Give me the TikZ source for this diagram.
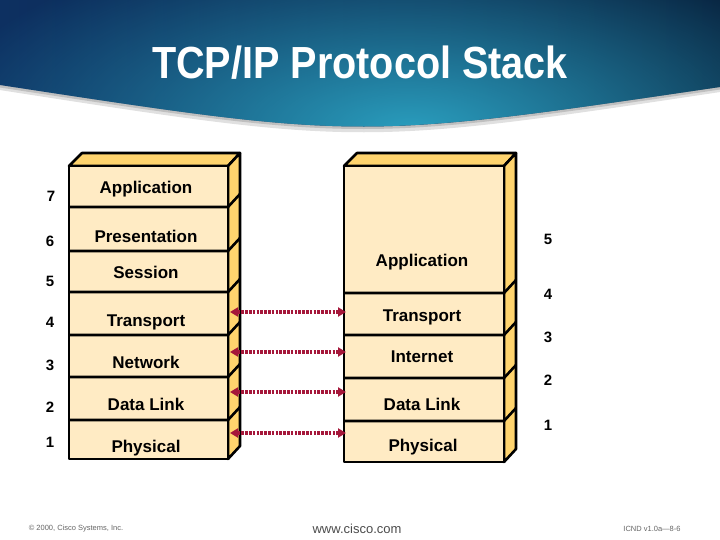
\documentclass[tikz,border=0pt]{standalone}
\usepackage{fontspec}
\setmainfont{Liberation Sans}
\usetikzlibrary{arrows.meta,fadings}
\definecolor{frontc}{HTML}{FFEBC4}
\definecolor{sidec}{HTML}{FFD46E}
\definecolor{arrc}{HTML}{A5173A}
\definecolor{navy}{HTML}{0D3061}
\definecolor{navymid}{HTML}{154579}
\definecolor{navydark}{HTML}{061C38}
\definecolor{tealc}{HTML}{2A9EBE}
\tikzfading[name=tealfade, inner color=transparent!0, outer color=transparent!100]
\begin{document}
\begin{tikzpicture}[x=1pt,y=-1pt,line join=round,
  facepen/.style={draw=black,line width=2.6pt},
  lbl/.style={anchor=base,inner sep=0pt,font=\fontsize{17}{17}\selectfont\bfseries},
  num/.style={anchor=base,inner sep=0pt,font=\fontsize{15}{15}\selectfont\bfseries},
  link/.style={draw=arrc,line width=3.4pt,dash pattern=on 2.6pt off 1.2pt,
    {Triangle[length=8pt,width=9pt]}-{Triangle[length=8pt,width=9pt]}},
  foot/.style={inner sep=0pt,text=black!60}]
\useasboundingbox (0,0) rectangle (720,540);
\fill[white] (0,0) rectangle (720,540);
% banner shadow
\draw[black!12,line width=6pt] (0,87) .. controls (360,143) .. (720,89);
\draw[black!25,line width=3pt] (0,86) .. controls (360,141) .. (720,88);
% banner
\begin{scope}
\clip (0,0) -- (720,0) -- (720,87) .. controls (360,140) .. (0,85) -- cycle;
\shade[left color=navy,middle color=navymid,right color=navydark] (0,0) rectangle (720,150);
\fill[tealc,path fading=tealfade] (410,130) ellipse (480 and 200);
\end{scope}
\node[text=white,inner sep=0pt,font=\fontsize{45}{45}\selectfont\bfseries] (title) at (360,63) {\scalebox{0.88}[1]{TCP/IP Protocol Stack}};

% left stack (OSI)
\filldraw[facepen,fill=sidec] (69,166) -- (82,153) -- (240,153) -- (228,166) -- cycle;
\filldraw[facepen,fill=sidec] (228,166) -- (240,153) -- (240,446) -- (228,459) -- cycle;
\filldraw[facepen,fill=frontc] (69,166) rectangle (228,459);
\foreach \yy in {207,251,292,335,377,420}
  \draw[facepen] (69,\yy) -- (228,\yy) -- (240,\yy-13);

% right stack (TCP/IP)
\filldraw[facepen,fill=sidec] (344,166) -- (357,153) -- (516,153) -- (504,166) -- cycle;
\filldraw[facepen,fill=sidec] (504,166) -- (516,153) -- (516,449) -- (504,462) -- cycle;
\filldraw[facepen,fill=frontc] (344,166) rectangle (504,462);
\foreach \yy in {293,335,378,421}
  \draw[facepen] (344,\yy) -- (504,\yy) -- (516,\yy-13);

% left labels
\node[lbl] (l7) at (146,194) {Application};
\node[lbl] (l6) at (146,242) {Presentation};
\node[lbl] (l5) at (146,278) {Session};
\node[lbl] (l4) at (146,326) {Transport};
\node[lbl] (l3) at (146,368) {Network};
\node[lbl] (l2) at (146,410) {Data Link};
\node[lbl] (l1) at (146,452) {Physical};

% right labels
\node[lbl] (r5) at (422,266.5) {Application};
\node[lbl] (r4) at (422,321) {Transport};
\node[lbl] (r3) at (422,362.5) {Internet};
\node[lbl] (r2) at (422,410.5) {Data Link};
\node[lbl] (r1) at (423,451.5) {Physical};

% left numbers
\node[num] (n7) at (51,202) {7};
\node[num] (n6) at (50,246) {6};
\node[num] (n5) at (50,286) {5};
\node[num] (n4) at (50,327.5) {4};
\node[num] (n3) at (50,370.5) {3};
\node[num] (n2) at (50,412.5) {2};
\node[num] (n1) at (50,447.5) {1};

% right numbers
\node[num] (m5) at (548,244) {5};
\node[num] (m4) at (548,299.5) {4};
\node[num] (m3) at (548,342.3) {3};
\node[num] (m2) at (548,385) {2};
\node[num] (m1) at (548,430.5) {1};

% peer links
\coordinate (a4) at (230,312); \coordinate (b4) at (346,312);
\coordinate (a3) at (230,352); \coordinate (b3) at (346,352);
\coordinate (a2) at (230,392); \coordinate (b2) at (346,392);
\coordinate (a1) at (230,433); \coordinate (b1) at (346,433);
\draw[link] (a4) -- (b4);
\draw[link] (a3) -- (b3);
\draw[link] (a2) -- (b2);
\draw[link] (a1) -- (b1);

% footer
\node[foot,font=\fontsize{7.5}{8}\selectfont] (copy) at (76,529) {\textcopyright\ 2000, Cisco Systems, Inc.};
\node[foot,text=black!70,font=\fontsize{13}{13}\selectfont] (web) at (357,529) {www.cisco.com};
\node[foot,font=\fontsize{7.5}{8}\selectfont] (code) at (652,529) {ICND v1.0a—8-6};
\end{tikzpicture}
\end{document}
